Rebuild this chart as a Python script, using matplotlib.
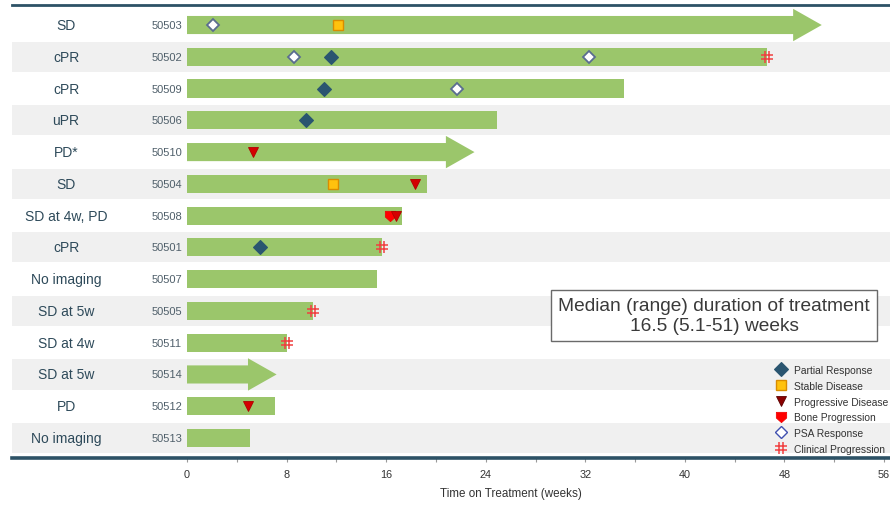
import matplotlib
matplotlib.use("Agg")
import matplotlib.pyplot as plt
from matplotlib.lines import Line2D
from matplotlib.path import Path

plt.rcParams['font.family'] = ['Liberation Sans', 'DejaVu Sans']

# Patients, top to bottom
patient_ids = ['50503', '50502', '50509', '50506', '50510', '50504', '50508',
               '50501', '50507', '50505', '50511', '50514', '50512', '50513']
best_response = ['SD', 'cPR', 'cPR', 'uPR', 'PD*', 'SD', 'SD at 4w, PD', 'cPR',
                 'No imaging', 'SD at 5w', 'SD at 4w', 'SD at 5w', 'PD', 'No imaging']
weeks_on_treatment = [51.0, 46.6, 35.1, 24.9, 23.1, 19.3, 17.3,
                      15.7, 15.3, 10.1, 8.0, 7.2, 7.1, 5.1]
ongoing = ['50503', '50510', '50514']

# Events (patient, week)
pr_patients = ['50502', '50509', '50506', '50501']
pr_weeks = [11.6, 11.0, 9.6, 5.9]
sd_patients = ['50503', '50504']
sd_weeks = [12.1, 11.7]
pd_patients = ['50510', '50504', '50508', '50512']
pd_weeks = [5.3, 18.3, 16.8, 4.9]
bone_patients = ['50508']
bone_weeks = [16.3]
psa_patients = ['50503', '50502', '50502', '50509']
psa_weeks = [2.1, 8.6, 32.3, 21.7]
clin_patients = ['50502', '50501', '50505', '50511']
clin_weeks = [46.6, 15.7, 10.1, 8.0]

x_ticks = [0, 8, 16, 24, 32, 40, 48, 56]

GREEN = '#9bc66b'
BAND = '#f0f0f0'
DARK = '#2d5266'

W, H = 890, 506
fig = plt.figure(figsize=(W / 100, H / 100), dpi=100)
ax = fig.add_axes([12 / W, (506 - 459) / H, 878 / W, (459 - 6) / H])

row = {pid: i for i, pid in enumerate(patient_ids)}
n = len(patient_ids)

px_per_week = (884 - 187) / 56
ax.set_xlim(-(187 - 12) / px_per_week, (890 - 187) / px_per_week)
ax.set_ylim(n - 1 + 0.63, -0.63)

# alternating background bands
for i in range(n):
    if i % 2 == 1:
        ax.axhspan(i - 0.475, i + 0.475, color=BAND, zorder=0, lw=0)

# treatment bars / arrows for ongoing patients
bar_h = 0.57
for pid, w in zip(patient_ids, weeks_on_treatment):
    y = row[pid]
    if pid in ongoing:
        ax.arrow(0, y, w, 0, width=bar_h, head_width=1.02, head_length=2.3,
                 length_includes_head=True, color=GREEN, lw=0, zorder=2)
    else:
        ax.barh(y, w, height=bar_h, color=GREEN, zorder=2)

# shield marker for bone progression
shield = Path([(-1, 1), (1, 1), (1, -0.1), (0, -1), (-1, -0.1), (-1, 1)],
              [Path.MOVETO, Path.LINETO, Path.LINETO, Path.LINETO, Path.LINETO, Path.CLOSEPOLY])
# hash sign marker for clinical progression
hash_mark = Path([(-0.35, -1), (-0.35, 1), (0.35, -1), (0.35, 1),
                  (-1, 0.35), (1, 0.35), (-1, -0.35), (1, -0.35)],
                 [Path.MOVETO, Path.LINETO] * 4)

styles = {
    'pr': dict(marker='D', ms=7, mfc='#2a5570', mec='#2a5570', mew=0.8),
    'sd': dict(marker='s', ms=7, mfc='#ffc20e', mec='#d98c00', mew=1.0),
    'pd': dict(marker='v', ms=6.8, mfc='#c80000', mec='#a00000', mew=0.6),
    'bone': dict(marker=shield, ms=7.5, mfc='#ff0000', mec='#ee0000', mew=0.5),
    'psa': dict(marker='D', ms=6.3, mfc='white', mec='#5a6d90', mew=1.3),
    'clin': dict(marker=hash_mark, ms=8, mfc='none', mec='#f04040', mew=1.1),
}
chart_pd = dict(styles['pd'])
chart_pd.update(mfc='#d40000', mec='#b00000')

events = [
    (pr_patients, pr_weeks, styles['pr']),
    (sd_patients, sd_weeks, styles['sd']),
    (psa_patients, psa_weeks, styles['psa']),
    (bone_patients, bone_weeks, styles['bone']),
    (pd_patients, pd_weeks, chart_pd),
    (clin_patients, clin_weeks, styles['clin']),
]
for pats, wks, st in events:
    ax.plot(wks, [row[p] for p in pats], ls='none', zorder=4, **st)

# left-hand labels
x_resp = (66 - 187) / px_per_week
x_id = (182 - 187) / px_per_week
for pid, resp in zip(patient_ids, best_response):
    y = row[pid]
    ax.text(x_resp, y, resp, ha='center', va='center', fontsize=10, color='#2e4a5a')
    ax.text(x_id, y, pid, ha='right', va='center', fontsize=8, color='#4f5f6a')

# axes styling
for s in ('left', 'right'):
    ax.spines[s].set_visible(False)
ax.spines['top'].set_color(DARK)
ax.spines['top'].set_linewidth(2)
ax.spines['bottom'].set_color(DARK)
ax.spines['bottom'].set_linewidth(2.6)
ax.set_yticks([])
ax.set_xticks(x_ticks)
ax.set_xticks([t + 4 for t in x_ticks[:-1]], minor=True)
ax.tick_params(axis='x', which='both', length=3, width=0.8, color='#999999',
               labelsize=7.8, labelcolor='#333333', pad=5)

fig.text(511 / W, 1 - 494 / H, 'Time on Treatment (weeks)', ha='center', va='center',
         fontsize=8.4, color='#333333')

# summary box
fig.text(714 / W, 1 - 316.5 / H,
         'Median (range) duration of treatment\n16.5 (5.1-51) weeks',
         ha='center', va='center', fontsize=13.8, color='#3a3a3a', linespacing=1.2,
         bbox=dict(boxstyle='square,pad=0.38', fc='white', ec='#6a6a6a', lw=1))

# legend
legend_labels = ['Partial Response', 'Stable Disease', 'Progressive Disease',
                 'Bone Progression', 'PSA Response', 'Clinical Progression']
leg_styles = [styles['pr'], styles['sd'], dict(styles['pd'], mfc='#8b0000', mec='#5a0000'),
              styles['bone'], dict(styles['psa'], mec='#4050b0', mew=1.0), styles['clin']]
handles = [Line2D([], [], ls='none', **st) for st in leg_styles]
leg = fig.legend(handles, legend_labels, loc='upper left',
                 bbox_to_anchor=(775 / W, 1 - 366 / H), frameon=False,
                 fontsize=7.4, labelspacing=0.56, handletextpad=0.6,
                 handlelength=1.2, borderpad=0, borderaxespad=0)
for t in leg.get_texts():
    t.set_color('#333333')

fig.savefig('out.png', dpi=100)
